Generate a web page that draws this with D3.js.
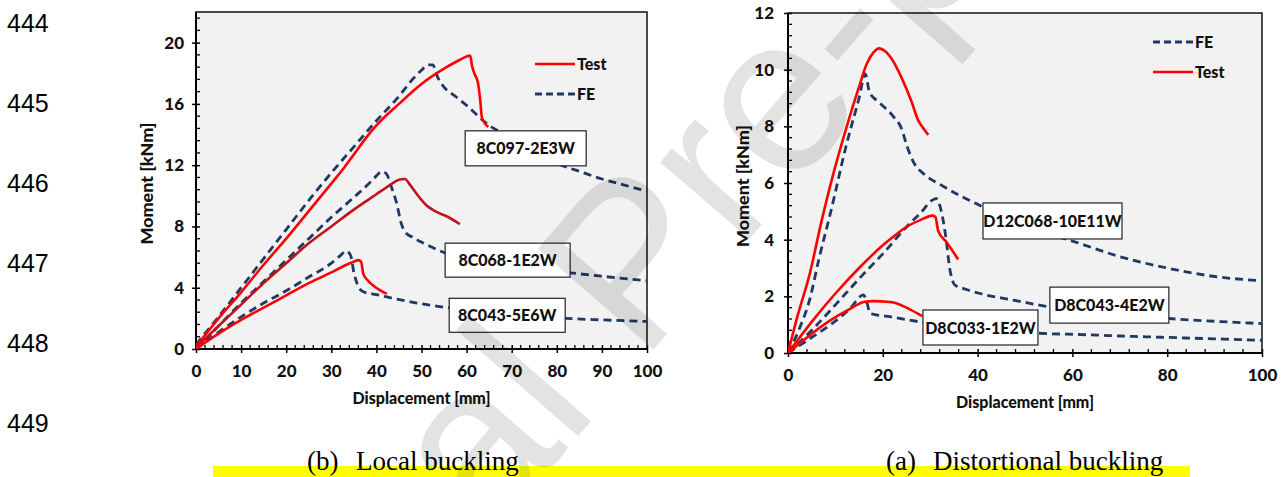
<!DOCTYPE html>
<html>
<head>
<meta charset="utf-8">
<script src="https://cdn.jsdelivr.net/npm/d3@7"></script>
<style>
  html, body { margin: 0; padding: 0; background: #fff; }
  svg { display: block; }
  .tick text { font-family: Lato, "Open Sans", sans-serif; font-weight: 900; }
</style>
</head>
<body>
<svg id="chart" width="1284" height="477"></svg>
<script>
// ---- data ----
// local buckling panel (b)
const localXTicks = [0, 10, 20, 30, 40, 50, 60, 70, 80, 90, 100]
const localYTicks = [0, 4, 8, 12, 16, 20]
const localNames = ["8C097-2E3W", "8C068-1E2W", "8C043-5E6W"]

const test097 = [[0,0.2],[2,0.9],[5,2.0],[10,3.7],[15,5.5],[20,7.2],[25,9.0],[30,10.8],[33,11.9],[35,12.7],[38,13.9],[40,14.6],[45,16.0],[50,17.3],[55,18.3],[58,18.8],[60,19.1],[60.8,19.15],[61.2,18.5],[61.7,18.0],[62.5,17.4],[63.0,16.3],[63.4,15.1],[64.8,14.5]]
const fe097 = [[0,0.3],[5,2.1],[10,4.0],[15,5.9],[20,7.8],[25,9.7],[30,11.5],[35,13.2],[40,14.9],[45,16.5],[48,17.6],[50,18.2],[51.5,18.55],[52.5,18.55],[53.5,17.8],[55,17.1],[57.5,16.5],[60,15.9],[65,14.6],[70,13.8],[75,13.0],[81,12.0],[85,11.6],[90,11.1],[95,10.7],[100,10.3]]
const test068 = [[0,0.1],[5,1.5],[10,2.9],[15,4.3],[20,5.6],[25,6.9],[30,8.0],[35,9.1],[40,10.1],[43,10.7],[45,11.05],[46.3,11.1],[47.5,10.7],[49,10.1],[51,9.4],[53,9.0],[56,8.6],[58.5,8.15]]
const fe068 = [[0,0],[5,1.5],[10,3.0],[15,4.4],[20,5.8],[25,7.2],[30,8.6],[35,9.9],[38,10.7],[40,11.3],[41.2,11.6],[42.3,11.4],[43.3,10.6],[44.5,9.5],[45.5,8.2],[46.5,7.6],[48,7.3],[50.5,6.9],[55,6.3],[60,5.9],[65,5.6],[70,5.4],[75,5.2],[83.6,4.95],[90,4.75],[100,4.45]]
const test043 = [[0,0],[5,1.0],[10,1.9],[15,2.7],[20,3.5],[25,4.3],[30,5.0],[33,5.45],[35,5.7],[36,5.8],[36.6,5.7],[37.1,4.9],[38,4.5],[39.5,4.1],[42.3,3.6]]
const fe043 = [[0,0],[5,1.1],[10,2.1],[15,3.0],[20,3.8],[25,4.7],[30,5.6],[32,6.1],[33.3,6.4],[34.3,6.1],[35,5.0],[35.8,4.2],[37,3.75],[40,3.55],[42.3,3.4],[49,3.0],[55.8,2.7],[65,2.4],[75,2.15],[82,2.0],[90,1.9],[100,1.8]]

// distortional buckling panel (a)
const distXTicks = [0, 20, 40, 60, 80, 100]
const distYTicks = [0, 2, 4, 6, 8, 10, 12]
const distNames = ["D12C068-10E11W", "D8C043-4E2W", "D8C033-1E2W"]

const testD12 = [[0,0],[2,1.3],[4.6,2.8],[7,4.6],[8.9,5.9],[12.4,8.0],[15,9.4],[16.6,10.2],[18,10.6],[19.2,10.75],[20.5,10.65],[22,10.35],[24,9.7],[26,8.9],[27.5,8.2],[28.7,7.9],[29.6,7.7]]
const feD12 = [[0,0],[2.5,0.9],[4.6,1.9],[6.5,3.3],[8.9,4.9],[12.4,7.4],[15,9.0],[16.3,9.85],[17.2,9.2],[19.2,8.85],[22.2,8.35],[24,7.9],[25.1,7.3],[26.6,6.7],[28.8,6.3],[32.6,5.9],[36.3,5.55],[40,5.25],[45,4.8],[50,4.5],[55,4.2],[60,3.95],[70,3.4],[80,3.0],[90,2.7],[100,2.55]]
const testD43 = [[0,0],[5,1.1],[10,2.1],[15,3.0],[20,3.8],[22.2,4.1],[25,4.45],[28,4.7],[30.5,4.85],[31.1,4.8],[31.7,4.3],[33.5,3.9],[35.9,3.3]]
const feD43 = [[0,0],[5,0.8],[10,1.7],[16,2.8],[20,3.5],[25,4.45],[28,4.95],[30.5,5.4],[31.3,5.45],[32.2,5.1],[33.2,4.2],[34.2,2.9],[35.2,2.4],[37.5,2.25],[40.5,2.1],[47.5,1.87],[53,1.69],[60,1.5],[70,1.35],[80,1.22],[90,1.12],[100,1.04]]
const testD33 = [[0,0],[4,0.55],[9,1.16],[13,1.55],[16,1.8],[18,1.83],[21.5,1.8],[23,1.75],[25,1.6],[28.3,1.3]]
const feD33 = [[0,0],[5,0.55],[9,1.0],[13,1.55],[15.9,2.05],[16.7,1.75],[17.3,1.4],[21.5,1.28],[27.8,1.1],[35,0.95],[45,0.8],[52.6,0.7],[62,0.65],[70,0.6],[80,0.55],[90,0.5],[100,0.45]]

const lineNumbers = ["444", "445", "446", "447", "448", "449"]

// colours
const red = "#ff0000"
const darkRed = "#c0141c"
const navy = "#1f3864"
const plotBg = "#f2f2f2"
const axisFont = "Lato, 'Open Sans', sans-serif"

const svg = d3.select("#chart")

// draws one panel: box, ticks, curves, legend, label boxes
function drawPanel(p) {
    const x = d3.scaleLinear().domain([0, 100]).range([p.left, p.right])
    const y = d3.scaleLinear().domain([0, p.yMax]).range([p.bottom, p.top])
    const g = svg.append("g")

    g.append("rect")
        .attr("x", p.left).attr("y", p.top)
        .attr("width", p.right - p.left).attr("height", p.bottom - p.top)
        .attr("fill", plotBg)

    const clipId = "clip" + p.id
    g.append("clipPath").attr("id", clipId).append("rect")
        .attr("x", p.left).attr("y", p.top)
        .attr("width", p.right - p.left).attr("height", p.bottom - p.top)

    // minor ticks (inside only)
    const isMajor = (v, step) => Math.abs(v / step - Math.round(v / step)) < 1e-6
    d3.range(0, 100.001, p.xMinor).filter(v => !isMajor(v, p.xMajor)).forEach(v => {
        g.append("line").attr("x1", x(v)).attr("x2", x(v))
            .attr("y1", p.bottom).attr("y2", p.bottom - 4)
            .attr("stroke", "#000").attr("stroke-width", 1.3)
    })
    d3.range(0, p.yMax + 0.001, p.yMinor).filter(v => !isMajor(v, p.yMajor)).forEach(v => {
        g.append("line").attr("x1", p.left).attr("x2", p.left + 4)
            .attr("y1", y(v)).attr("y2", y(v))
            .attr("stroke", "#000").attr("stroke-width", 1.3)
    })

    // major ticks + labels via d3 axes
    const xAxis = d3.axisBottom(x).tickValues(p.xTicks).tickSize(4).tickPadding(12).tickFormat(d3.format("d"))
    const yAxis = d3.axisLeft(y).tickValues(p.yTicks).tickSize(4).tickPadding(p.yPad).tickFormat(d3.format("d"))
    const gx = g.append("g").attr("transform", `translate(0,${p.bottom})`).call(xAxis)
    const gy = g.append("g").attr("transform", `translate(${p.left},0)`).call(yAxis)
    ;[gx, gy].forEach(a => {
        a.select(".domain").remove()
        a.selectAll(".tick line").attr("stroke-width", 1.5)
        a.selectAll(".tick text").attr("font-size", 17).attr("fill", "#111")
    })
    gx.selectAll(".tick line").attr("y1", -4)
    gy.selectAll(".tick line").attr("x1", 4)

    // frame
    g.append("rect")
        .attr("x", p.left).attr("y", p.top)
        .attr("width", p.right - p.left).attr("height", p.bottom - p.top)
        .attr("fill", "none").attr("stroke", "#111").attr("stroke-width", 1.5)
    g.append("line").attr("x1", p.left).attr("x2", p.right).attr("y1", p.bottom).attr("y2", p.bottom)
        .attr("stroke", "#000").attr("stroke-width", 2)
    g.append("line").attr("x1", p.left).attr("x2", p.left).attr("y1", p.top).attr("y2", p.bottom)
        .attr("stroke", "#000").attr("stroke-width", 2)

    // curves
    const line = d3.line().x(d => x(d[0])).y(d => y(d[1])).curve(d3.curveMonotoneX)
    const curves = g.append("g").attr("clip-path", `url(#${clipId})`)
    p.series.forEach(s => {
        curves.append("path")
            .attr("d", line(s.data))
            .attr("fill", "none")
            .attr("stroke", s.fe ? navy : s.color)
            .attr("stroke-width", s.fe ? 2.8 : 2.6)
            .attr("stroke-dasharray", s.fe ? "8,5" : null)
            .attr("stroke-linejoin", "round")
    })

    // specimen label boxes (centre given in data units)
    p.labels.forEach(l => {
        const cx = x(l.at[0]), cy = y(l.at[1])
        g.append("rect")
            .attr("x", cx - l.w / 2).attr("y", cy - l.h / 2)
            .attr("width", l.w).attr("height", l.h)
            .attr("fill", "#fff").attr("stroke", "#222").attr("stroke-width", 1.2)
        g.append("text").attr("x", cx).attr("y", cy + 6)
            .attr("text-anchor", "middle")
            .attr("font-family", axisFont).attr("font-weight", 900).attr("font-size", 16)
            .attr("fill", "#111").text(l.name)
    })

    // legend
    p.legend.forEach((it, i) => {
        const ly = p.legendY + i * p.legendGap
        g.append("line")
            .attr("x1", p.legendX).attr("x2", p.legendX + 40)
            .attr("y1", ly).attr("y2", ly)
            .attr("stroke", it.fe ? navy : red).attr("stroke-width", it.fe ? 2.8 : 2.6)
            .attr("stroke-dasharray", it.fe ? "7,4" : null)
        g.append("text").attr("x", p.legendX + 42).attr("y", ly + 6)
            .attr("font-family", axisFont).attr("font-weight", 900).attr("font-size", 16)
            .attr("fill", "#111").text(it.name)
    })

    // axis titles
    g.append("text").attr("x", (p.left + p.right) / 2).attr("y", p.bottom + 55)
        .attr("text-anchor", "middle")
        .attr("font-family", axisFont).attr("font-weight", 900).attr("font-size", 16)
        .attr("textLength", 138).attr("lengthAdjust", "spacingAndGlyphs")
        .attr("fill", "#111").text("Displacement [mm]")
    g.append("text")
        .attr("transform", `translate(${p.yTitleX},${(p.top + p.bottom) / 2 + 3}) rotate(-90)`)
        .attr("text-anchor", "middle")
        .attr("font-family", axisFont).attr("font-weight", 900).attr("font-size", 16)
        .attr("textLength", 122).attr("lengthAdjust", "spacingAndGlyphs")
        .attr("fill", "#111").text("Moment [kNm]")
}

drawPanel({
    id: "L", left: 196, right: 647, top: 12, bottom: 349, yMax: 22,
    xTicks: localXTicks, yTicks: localYTicks, xMajor: 10, xMinor: 2, yMajor: 4, yMinor: 0.8,
    yTitleX: 153, yPad: 8,
    series: [
        { data: fe097, fe: true }, { data: test097, color: red },
        { data: fe068, fe: true }, { data: test068, color: darkRed },
        { data: fe043, fe: true }, { data: test043, color: red }
    ],
    labels: [
        { name: localNames[0], at: [73.1, 13.1], w: 121, h: 35 },
        { name: localNames[1], at: [69.1, 5.8], w: 125, h: 34 },
        { name: localNames[2], at: [69.0, 2.2], w: 116, h: 34 }
    ],
    legend: [{ name: "Test" }, { name: "FE", fe: true }],
    legendX: 535, legendY: 64, legendGap: 30
})

drawPanel({
    id: "R", left: 788, right: 1262, top: 13, bottom: 353, yMax: 12,
    xTicks: distXTicks, yTicks: distYTicks, xMajor: 20, xMinor: 4, yMajor: 2, yMinor: 0.4,
    yTitleX: 749, yPad: 10,
    series: [
        { data: feD12, fe: true }, { data: testD12, color: red },
        { data: feD43, fe: true }, { data: testD43, color: red },
        { data: feD33, fe: true }, { data: testD33, color: red }
    ],
    labels: [
        { name: distNames[0], at: [55.8, 4.66], w: 139, h: 36 },
        { name: distNames[1], at: [67.8, 1.69], w: 119, h: 36 },
        { name: distNames[2], at: [40.6, 0.9], w: 115, h: 35 }
    ],
    legend: [{ name: "FE", fe: true }, { name: "Test" }],
    legendX: 1153, legendY: 42, legendGap: 30
})

// manuscript line numbers
lineNumbers.forEach((n, i) => {
    svg.append("text").attr("x", 7).attr("y", 32 + i * 80)
        .attr("font-family", "'Liberation Sans', Arial, sans-serif").attr("font-size", 25)
        .attr("fill", "#000").text(n)
})

// highlighted caption line
svg.append("rect").attr("x", 213).attr("y", 466).attr("width", 977).attr("height", 11).attr("fill", "#ffff00")
const captions = [["(b)", "Local buckling", 307, 356], ["(a)", "Distortional buckling", 886, 933]]
captions.forEach(c => {
    svg.append("text").attr("x", c[2]).attr("y", 470)
        .attr("font-family", "'Liberation Serif', 'Times New Roman', serif").attr("font-size", 27)
        .attr("fill", "#000").text(c[0])
    svg.append("text").attr("x", c[3]).attr("y", 470)
        .attr("font-family", "'Liberation Serif', 'Times New Roman', serif").attr("font-size", 27)
        .attr("fill", "#000").text(c[1])
})

// "Journal Pre-proof" watermark
svg.append("text")
    .attr("transform", "translate(121,962) rotate(-49)")
    .attr("font-family", "'Liberation Sans', Arial, sans-serif").attr("font-size", 223)
    .attr("fill", "#000").attr("fill-opacity", 0.11)
    .text("Journal Pre-proof")
</script>
</body>
</html>
